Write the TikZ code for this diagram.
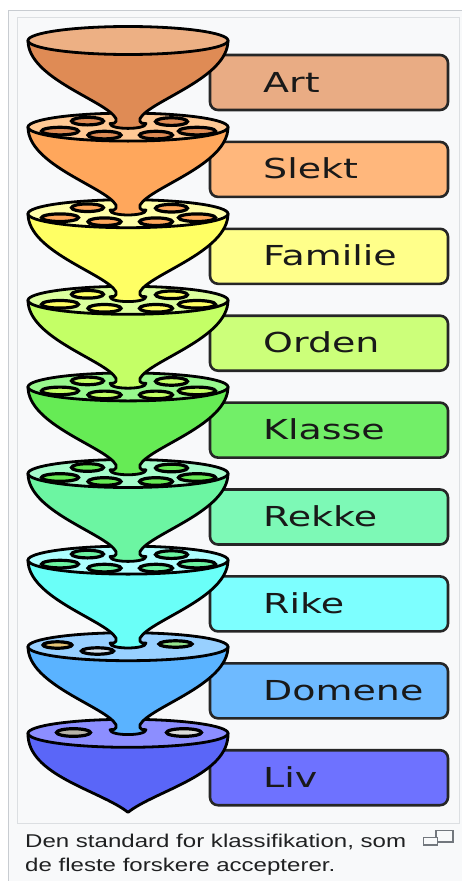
\documentclass[tikz,border=0pt]{standalone}
\usepackage{graphicx}
\usepackage{fontspec}
\setmainfont{DejaVu Sans}
\newfontfamily\capfont{Liberation Sans}

% rank colours: body (cone), rim (inner surface), label box
\definecolor{artBody}{HTML}{DF8B55}
\definecolor{artRim}{HTML}{EDB084}
\definecolor{artBox}{HTML}{E9AC84}
\definecolor{slektBody}{HTML}{FFA75C}
\definecolor{slektRim}{HTML}{FFC995}
\definecolor{slektBox}{HTML}{FFB77C}
\definecolor{famBody}{HTML}{FFFF64}
\definecolor{famRim}{HTML}{FFFFAA}
\definecolor{famBox}{HTML}{FFFF8A}
\definecolor{ordBody}{HTML}{C4FF66}
\definecolor{ordRim}{HTML}{DCFF9E}
\definecolor{ordBox}{HTML}{CCFF7A}
\definecolor{klaBody}{HTML}{66EB55}
\definecolor{klaRim}{HTML}{98F88E}
\definecolor{klaBox}{HTML}{72EF68}
\definecolor{rekBody}{HTML}{6CF5A2}
\definecolor{rekRim}{HTML}{A6FCCB}
\definecolor{rekBox}{HTML}{7DF9B6}
\definecolor{rikBody}{HTML}{6AFFF8}
\definecolor{rikRim}{HTML}{AEFFFF}
\definecolor{rikBox}{HTML}{7DFFFF}
\definecolor{domBody}{HTML}{5AB3FF}
\definecolor{domRim}{HTML}{98D0FF}
\definecolor{domBox}{HTML}{6EBAFF}
\definecolor{livBody}{HTML}{5A66F8}
\definecolor{livRim}{HTML}{8C8EFF}
\definecolor{livBox}{HTML}{6E72FF}
\definecolor{domHoleA}{HTML}{E6C476}
\definecolor{domHoleB}{HTML}{D6E2EE}
\definecolor{domHoleC}{HTML}{96E58E}
\definecolor{livHoleA}{HTML}{B8B4A8}
\definecolor{livHoleB}{HTML}{DCDCDA}
\definecolor{pagebg}{HTML}{F8F9FA}
\definecolor{framegray}{HTML}{C8CCD1}
\definecolor{innerframe}{HTML}{DCDFE2}
\definecolor{captext}{HTML}{202122}
\definecolor{icongray}{HTML}{72777D}

\tikzset{
  outline/.style={draw=black, line width=2.8pt, line join=round},
  hole/.style={draw=black, line width=3.2pt},
  rankbox/.style={draw=black!85, line width=2.6pt, rounded corners=8pt},
  ranklabel/.style={anchor=base west, inner sep=0pt, text=black!90,
    font=\fontsize{27.5}{30}\selectfont},
  captionline/.style={anchor=base west, inner sep=0pt, text=captext,
    font=\capfont\fontsize{18.5}{22}\selectfont},
}

% funnel cone with neck ending in the rim below, then its own rim
% #1 = rim centre y, #2 = body colour, #3 = rim colour
\newcommand\drawfunnel[3]{%
  \path[outline, fill=#2] (28,#1)
    .. controls (28,#1+38) and (106,#1+60) .. (116,#1+78)
    -- (116,#1+81)
    .. controls (116,#1+83) and (113,#1+83) .. (110,#1+83)
    .. controls (110,#1+89.5) and (146,#1+89.5) .. (146,#1+83)
    .. controls (143,#1+83) and (140,#1+83) .. (140,#1+81)
    -- (140,#1+78)
    .. controls (150,#1+60) and (228,#1+38) .. (228,#1) -- cycle;
  \path[outline, fill=#3] (128,#1) ellipse [x radius=100, y radius=14];
}

% six openings on a rim, filled with the colour of the rank above
\newcommand\sixholes[2]{%
  \path[hole, fill=#2] (87.5,#1-6) ellipse [x radius=16, y radius=3.8];
  \path[hole, fill=#2] (171.5,#1-5.5) ellipse [x radius=16, y radius=3.8];
  \path[hole, fill=#2] (60,#1+4) ellipse [x radius=18.5, y radius=3.8];
  \path[hole, fill=#2] (104.5,#1+8) ellipse [x radius=16.5, y radius=3.8];
  \path[hole, fill=#2] (156,#1+8) ellipse [x radius=16.5, y radius=3.8];
  \path[hole, fill=#2] (197,#1+4) ellipse [x radius=18.5, y radius=3.8];
}

\begin{document}
\begin{tikzpicture}[x=1pt, y=-1pt]
  \useasboundingbox (0,0) rectangle (462,881);
  \fill[white] (0,0) rectangle (462,881);

  % thumbnail frame
  \path[draw=framegray, line width=1pt, fill=pagebg] (8.5,10.5) rectangle (472,892);
  \path[draw=innerframe, line width=1pt, fill=pagebg] (17.5,17.5) rectangle (459.5,823);

  % label boxes
  \foreach \i/\name/\col in {0/Art/artBox, 1/Slekt/slektBox, 2/Familie/famBox,
      3/Orden/ordBox, 4/Klasse/klaBox, 5/Rekke/rekBox, 6/Rike/rikBox,
      7/Domene/domBox, 8/Liv/livBox} {
    \pgfmathsetmacro\bt{55+86.9*\i}
    \path[rankbox, fill=\col] (210,\bt) rectangle (448,\bt+55);
    \node[ranklabel] (label\i) at (263,\bt+37) {\scalebox{1.38}[1]{\name}};
  }

  % Liv: closed bowl ending in a point
  \path[outline, fill=livBody] (28,733.3)
    .. controls (27,775.3) and (100,790.3) .. (128,812.3)
    .. controls (156,790.3) and (229,775.3) .. (228,733.3) -- cycle;
  \path[outline, fill=livRim] (128,733.3) ellipse [x radius=100, y radius=14];
  \path[hole, fill=livHoleA] (73.5,732.5) ellipse [x radius=17, y radius=3.8];
  \path[hole, fill=livHoleB] (184,732.5) ellipse [x radius=17.5, y radius=3.8];

  % Domene
  \drawfunnel{646.7}{domBody}{domRim}
  \path[hole, fill=domHoleA] (57.5,645) ellipse [x radius=14.5, y radius=3.2];
  \path[hole, fill=domHoleB] (97.5,651) ellipse [x radius=16, y radius=3.2];
  \path[hole, fill=domHoleC] (175.5,644) ellipse [x radius=16.5, y radius=3.2];

  % Rike .. Slekt
  \drawfunnel{560.1}{rikBody}{rikRim}
  \sixholes{560.1}{rekBody}
  \drawfunnel{473.5}{rekBody}{rekRim}
  \sixholes{473.5}{klaBody}
  \drawfunnel{386.9}{klaBody}{klaRim}
  \sixholes{386.9}{ordBody}
  \drawfunnel{300.3}{ordBody}{ordRim}
  \sixholes{300.3}{famBody}
  \drawfunnel{213.7}{famBody}{famRim}
  \sixholes{213.7}{slektBody}
  \drawfunnel{127.1}{slektBody}{slektRim}
  \sixholes{127.1}{artBody}

  % Art
  \drawfunnel{40.5}{artBody}{artRim}

  % caption
  \node[captionline] (cap1) at (25,847)
    {\scalebox{1.30}[1]{Den standard for klassifikation, som}};
  \node[captionline] (cap2) at (25,871)
    {\scalebox{1.30}[1]{de fleste forskere accepterer.}};

  % enlarge icon
  \path[draw=icongray, line width=1.6pt] (436,830.5) rectangle (453,842);
  \path[draw=icongray, line width=1.6pt, fill=pagebg] (423.5,837.5) rectangle (437.5,845);
\end{tikzpicture}
\end{document}
